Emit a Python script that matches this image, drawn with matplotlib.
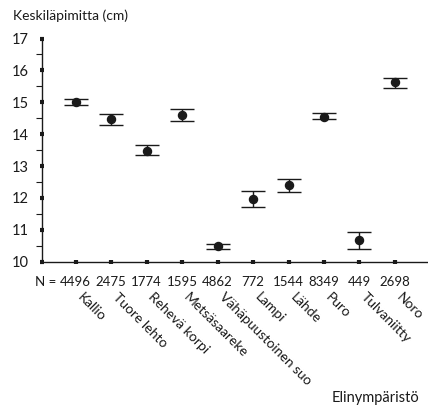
import numpy as np
import matplotlib.pyplot as plt
from matplotlib.ticker import MultipleLocator
import matplotlib.transforms as mtransforms

plt.rcParams['font.family'] = ['Lato', 'DejaVu Sans']

# data
categories = ["Kallio", "Tuore lehto", "Rehevä korpi", "Metsäsaareke",
              "Vähäpuustoinen suo", "Lampi", "Lähde", "Puro", "Tulvaniitty", "Noro"]
counts = [4496, 2475, 1774, 1595, 4862, 772, 1544, 8349, 449, 2698]
means = [15.02, 14.47, 13.47, 14.59, 10.49, 11.97, 12.40, 14.55, 10.69, 15.64]
upper = [15.09, 14.62, 13.65, 14.80, 10.57, 12.22, 12.58, 14.65, 10.94, 15.77]
lower = [14.91, 14.29, 13.34, 14.40, 10.40, 11.71, 12.19, 14.47, 10.41, 15.45]

x = np.arange(len(categories))
means = np.array(means)
yerr = [means - np.array(lower), np.array(upper) - means]

fig = plt.figure(figsize=(4.28, 4.08), dpi=100)
ax = fig.add_axes([0.0974, 0.3586, 0.90, 0.547])

ax.errorbar(x, means, yerr=yerr, fmt='o', color='#1a1a1a', ecolor='#1a1a1a',
            markersize=5.8, elinewidth=1.0, capsize=8.6, capthick=1.0)

ax.set_ylim(10, 17)
ax.set_xlim(-0.96, 9.9)
ax.yaxis.set_major_locator(MultipleLocator(1))
ax.yaxis.set_minor_locator(MultipleLocator(0.5))
ax.set_xticks(x)
ax.set_xticklabels([])

for s in ['top', 'right']:
    ax.spines[s].set_visible(False)
for s in ['left', 'bottom']:
    ax.spines[s].set_linewidth(1.0)
    ax.spines[s].set_color('#1a1a1a')

ax.tick_params(axis='y', which='major', direction='inout', length=3, width=3,
               labelsize=10.5, pad=8, colors='#1a1a1a')
ax.tick_params(axis='y', which='minor', direction='out', length=4, width=0.8,
               colors='#1a1a1a')
ax.tick_params(axis='x', which='major', direction='inout', length=3, width=3,
               colors='#1a1a1a')

trans = mtransforms.blended_transform_factory(ax.transData, ax.transAxes)
for xi, n in zip(x, counts):
    ax.text(xi, -0.09, str(n), transform=trans, ha='center', va='center',
            fontsize=9.5, color='#1a1a1a')
ax.text(-0.55, -0.09, "N =", transform=trans, ha='right', va='center',
        fontsize=9.5, color='#1a1a1a')

for xi, name in zip(x, categories):
    ax.text(xi + 0.22, -0.13, name, transform=trans, ha='left', va='top',
            rotation=-45, rotation_mode='anchor', fontsize=10, color='#1a1a1a')

fig.text(0.03, 0.962, "Keskiläpimitta (cm)", ha='left', va='center',
         fontsize=10, color='#1a1a1a')
fig.text(0.98, 0.025, "Elinympäristö", ha='right', va='center',
         fontsize=10.5, color='#1a1a1a')

fig.savefig("out.png", dpi=100)
